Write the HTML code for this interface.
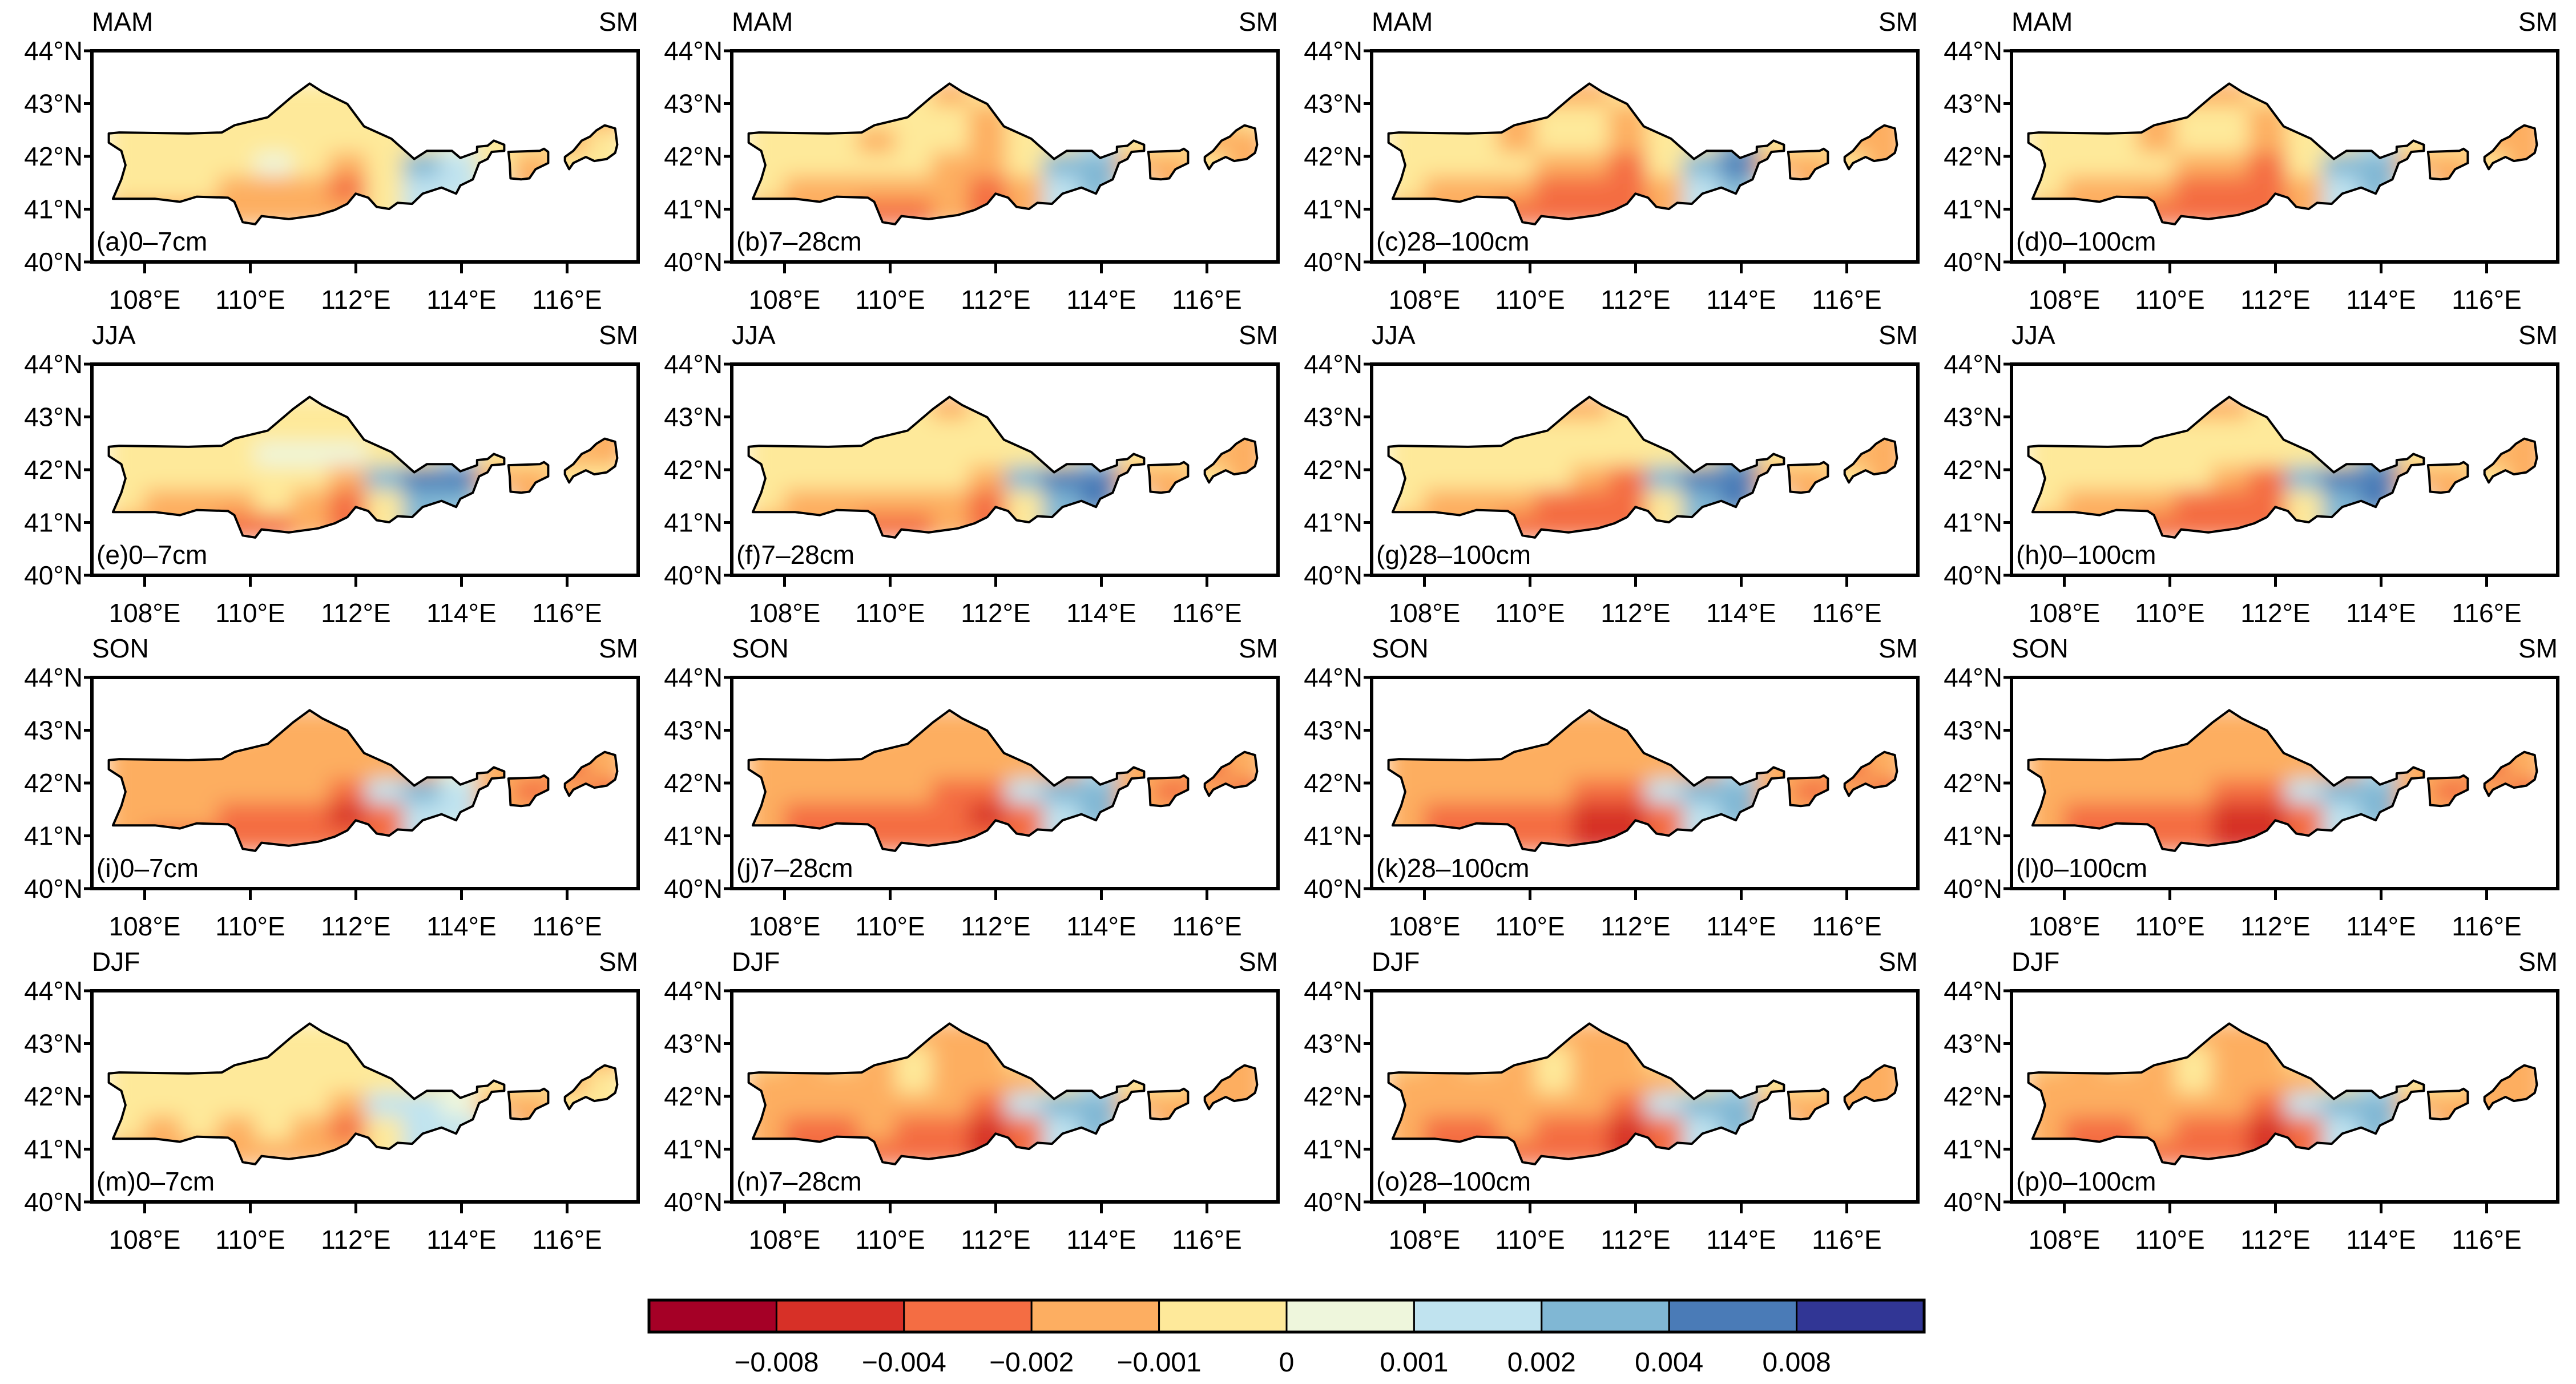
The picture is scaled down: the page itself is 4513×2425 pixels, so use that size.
<!DOCTYPE html>
<html><head><meta charset="utf-8"><style>
html,body{margin:0;padding:0;background:#fff;}
svg{display:block;font-family:"Liberation Sans",sans-serif;}
</style></head><body>
<svg id="fig" width="4513" height="2425" viewBox="0 0 4513 2425" xmlns="http://www.w3.org/2000/svg">
<defs>
<filter id="blur" x="-5%" y="-5%" width="110%" height="110%"><feGaussianBlur stdDeviation="18" edgeMode="duplicate"/></filter>
</defs>
</svg>
<script>
// colour levels (bins) and colorbar tick labels
const levelColors = ["#a50026","#d73027","#f46d43","#fdae61","#fee99a","#eef6dc","#c0e3ef","#80b7d4","#4a7bb7","#313695"];
const tickLabels = ["−0.008","−0.004","−0.002","−0.001","0","0.001","0.002","0.004","0.008"];
const seasons = ["MAM","JJA","SON","DJF"];
const layers = ["0–7cm","7–28cm","28–100cm","0–100cm"];
const letters = "abcdefghijklmnop";
const lonTicks = [108,110,112,114,116];
const latTicks = [40,41,42,43,44];
// coarse grid centers
const gridLons = [107.65,108.35,109.05,109.75,110.45,111.15,111.85,112.55,113.25,113.95,114.65,115.35,116.05,116.75];
const gridLats = [43.18,42.73,42.28,41.83,41.38,40.93];
// bin index fields per panel (rows north->south)
const fMAM0 = ["44444444444444","44444444444443","44444444454434","44445434764344","44433324665344","33333334654444"];
const fMAM1 = ["44444344444444","44444434444434","44434434464433","44444334773343","43333323675343","33322323665433"];
const fMAM2 = ["44443344444444","44434434444433","44434434474433","44443324783343","43332223675333","33322223665433"];
const fMAM3 = ["44443344444444","44434434444433","44434434464433","44443324773343","43332223675333","33322223665433"];
const fJJA0 = ["44444444444444","44444444444443","44445554464433","44444437883344","43334324775344","33322324765444"];
const fJJA1 = ["44444344444444","44444444444443","44444444464433","44444437883343","43333324785344","33322324765433"];
const fJJA2 = ["44443344444444","44444444444443","44444444474433","44444327883343","43332224785343","33322224765433"];
const fJJA3 = ["44443344444444","44444444444443","44444444474433","44444327883343","43332224785343","33322224765433"];
const fSON0 = ["33343334333333","33333333333333","33333333353323","33333326763232","33322212663322","32222222654333"];
const fSON1 = ["33343334333333","33333333333333","33333333363323","33333226773232","32222212673322","32222222664333"];
const fSON2 = ["33343334333333","33333333333333","33333333363323","33333226773232","32222112673322","32222112664333"];
const fSON3 = ["33343334333333","33333333333333","33333333363323","33333226773232","32222112673322","32222112664333"];
const fDJF0 = ["44444444444444","44444444444443","44444444454434","44444436653344","43434324665344","33333334654444"];
const fDJF1 = ["44443334444444","43434334444433","33334333464433","33333326773333","32232212675333","32222212665433"];
const fDJF2 = ["44443334444444","43434334444433","33334333464433","33333326773333","32232212675333","32222212665433"];
const fDJF3 = ["44443334444444","43434334444433","33334333464433","33333326773333","32232212675333","32222212665433"];
const fields = [fMAM0,fMAM1,fMAM2,fMAM3,fJJA0,fJJA1,fJJA2,fJJA3,fSON0,fSON1,fSON2,fSON3,fDJF0,fDJF1,fDJF2,fDJF3];

// region outline traced (panel-local pixel units at reference scale, converted to lon/lat below)
const outlineTrace = [
 [[260,655],[285,650],[450,655],[530,650],[560,615],[640,575],[700,470],[740,410],[770,450],[830,510],[870,620],[935,680],[990,780],[1020,740],[1080,740],[1100,775],[1140,745],[1140,720],[1165,715],[1180,690],[1205,710],[1205,740],[1175,745],[1165,780],[1145,800],[1130,880],[1100,910],[1090,950],[1055,920],[1010,950],[985,1000],[950,995],[930,1025],[900,1015],[880,970],[850,950],[830,1000],[800,1030],[760,1055],[690,1075],[625,1060],[610,1100],[580,1090],[560,990],[545,970],[470,965],[430,990],[370,975],[285,975],[270,975],[290,880],[300,810],[290,740],[260,700]],
 [[1215,745],[1290,740],[1300,730],[1310,745],[1310,800],[1280,830],[1265,875],[1245,880],[1220,875],[1218,800]],
 [[1350,770],[1370,740],[1390,690],[1410,670],[1425,640],[1445,615],[1470,630],[1475,710],[1470,750],[1450,780],[1420,790],[1400,770],[1370,800],[1360,830],[1350,790]]
];
const outlineLonLat = outlineTrace.map(poly=>poly.map(([x,y])=>[107+(x/1.364-161)/92.5, 44-(y/2.8-89)/92.5]));

const NS="http://www.w3.org/2000/svg";
const svg=document.getElementById('fig');
const defs=svg.querySelector('defs');
function mk(tag,attrs,parent){const e=document.createElementNS(NS,tag);for(const k in attrs)e.setAttribute(k,attrs[k]);(parent||svg).appendChild(e);return e;}

const W=957,H=370,DX=1121,DY=549,X0=161,Y0=89;
const LON0=107, LAT1=44, PPD=92.5;

function xOf(lon){return (lon-LON0)*PPD;}
function yOf(lat){return (LAT1-lat)*PPD;}
const cp=mk('clipPath',{id:'region'},defs);
outlineLonLat.forEach(poly=>{
  mk('polygon',{points:poly.map(p=>xOf(p[0]).toFixed(1)+','+yOf(p[1]).toFixed(1)).join(' ')},cp);
});

for(let i=0;i<16;i++){
  const r=Math.floor(i/4), c=i%4;
  const ox=X0+c*DX, oy=Y0+r*DY;
  const g=mk('g',{transform:`translate(${ox},${oy})`});
  
  
  const t1=mk('text',{x:0,y:-35,'font-size':46,fill:'#000'},g);t1.textContent=seasons[r];
  
  const t2=mk('text',{x:W,y:-35,'font-size':46,'text-anchor':'end',fill:'#000'},g);t2.textContent='SM';
  
  const clipG=mk('g',{'clip-path':'url(#region)'},g);
  
  
  const blurG=mk('g',{filter:'url(#blur)'},clipG);
  const field=fields[i];
  const dLon=0.7, dLat=0.45;
  gridLats.forEach((lat,ri)=>{
    gridLons.forEach((lon,ci)=>{
      const v=+field[ri][ci];
      const cell=mk('rect',{x:xOf(lon-dLon/2)-1,y:yOf(lat+dLat/2)-1,width:dLon*PPD+2,height:dLat*PPD+2,fill:levelColors[v]},blurG);
      
      
    });
  });
  outlineLonLat.forEach(poly=>{
    const p=mk('polygon',{points:poly.map(q=>xOf(q[0]).toFixed(1)+','+yOf(q[1]).toFixed(1)).join(' '),fill:'none',stroke:'#000','stroke-width':4,'stroke-linejoin':'round'},g);
    
    
  });
  const fr=mk('rect',{x:0,y:0,width:W,height:H,fill:'none',stroke:'#000','stroke-width':6},g);
  
  latTicks.forEach(lat=>{
    const y=yOf(lat);
    mk('line',{x1:0,x2:-14,y1:y,y2:y,stroke:'#000','stroke-width':5},g);
    const tl=mk('text',{x:-16,y:y+16,'font-size':46,'text-anchor':'end'},g);tl.textContent=lat+'°N';
    
  });
  lonTicks.forEach(lon=>{
    const x=xOf(lon);
    mk('line',{x1:x,x2:x,y1:H,y2:H+20,stroke:'#000','stroke-width':5},g);
    const tl=mk('text',{x:x,y:H+82,'font-size':46,'text-anchor':'middle'},g);tl.textContent=lon+'°E';
    
  });
  const pl=mk('text',{x:8,y:H-20,'font-size':46},g);pl.textContent='('+letters[i]+')'+layers[c];
  
}

const cbX=1137, cbY=2278, cbW=2234, cbH=56;
const cb=mk('g',{});


const bw=cbW/levelColors.length;
levelColors.forEach((col,k)=>{
  const b=mk('rect',{x:cbX+k*bw,y:cbY,width:bw,height:cbH,fill:col,stroke:'#000','stroke-width':3},cb);
  
  
});
mk('rect',{x:cbX,y:cbY,width:cbW,height:cbH,fill:'none',stroke:'#000','stroke-width':5},cb);
tickLabels.forEach((t,k)=>{
  const tx=mk('text',{x:cbX+(k+1)*bw,y:2403,'font-size':48,'text-anchor':'middle'},cb);
  tx.textContent=t;
  
  
});
</script>
</body></html>
